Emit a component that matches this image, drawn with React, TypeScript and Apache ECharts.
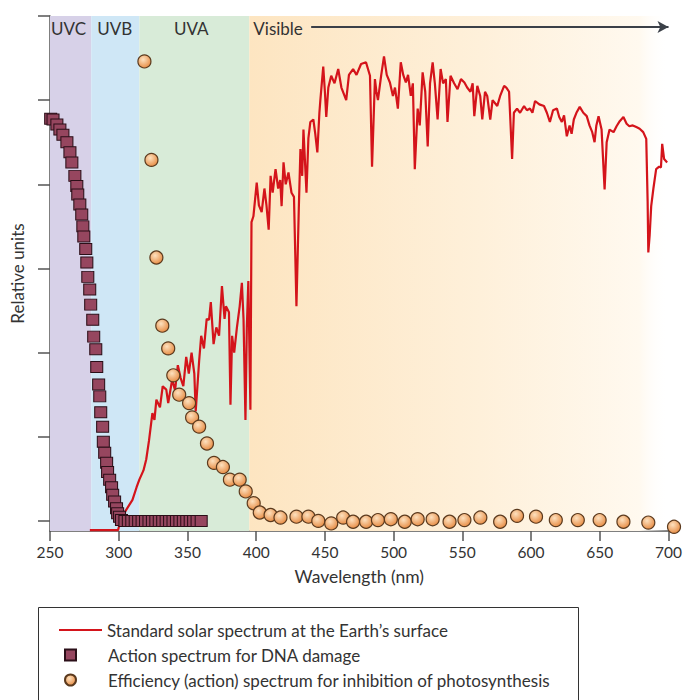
import React, { useEffect, useRef } from "react";
import * as echarts from "echarts";

const FONT = 'Lato, "Open Sans", "DejaVu Sans", sans-serif';

// X axis tick labels (nm)
const xTicks = [250, 300, 350, 400, 450, 500, 550, 600, 650, 700];
const yTicks = [0, 1, 2, 3, 4, 5, 6];

// Spectral bands
const bandNames = ["UVC", "UVB", "UVA", "Visible"];
const bandStart = [250, 280, 315, 395];
const bandEnd = [280, 315, 395, 707];

// Standard solar spectrum at the Earth's surface (relative units)
const solarWl = [
  279, 299.5, 302, 305, 310, 313, 315, 318, 320, 322, 324.5, 326, 327.4, 330, 332, 334.6, 336, 338.9, 341, 343,
  345, 347, 349.1, 351, 353, 355, 356, 358.5, 360, 362, 364, 365.7, 367, 369, 371, 373, 375.1, 377, 378, 380.2,
  381.3, 382.5, 384, 386, 388, 389.6, 390.8, 392.2, 393.2, 394.3, 395.8, 396.6, 398, 400.4, 402, 404, 406, 407.5,
  409.1, 410.5, 412, 414.1, 416, 417.5, 418.5, 419.9, 421.5, 423.5, 425.7, 427.5, 429.3, 431, 432.2, 433.5, 434.4,
  436.6, 438, 439.4, 441.6, 443, 444.5, 446, 446.7, 448.8, 450, 451, 452.5, 454.6, 457, 459.7, 462, 465.5, 467.5,
  470.5, 473, 476.3, 479.9, 482.8, 484.3, 486.4, 487.5, 488.6, 491, 493, 495, 497.3, 499.5, 501, 503.1, 505.2, 507,
  508.9, 510.5, 512.5, 514, 515.4, 517.5, 519, 521.1, 523, 524.8, 526.5, 528.4, 530, 532, 534.2, 536, 538, 539.2,
  541.4, 544, 546.5, 549, 551.5, 553.5, 555.9, 557.5, 558.7, 560.9, 563, 564.5, 566.5, 568.1, 570.3, 572, 575.4,
  577.5, 580.4, 582, 584, 586.2, 587.5, 589.8, 592, 594.9, 597, 599.2, 601, 602.9, 606, 609.4, 611.5, 613.7, 616,
  618.8, 620.5, 622.4, 624, 626, 628, 629.5, 631.1, 633, 635.4, 638, 640.5, 642.5, 644.5, 646.2, 647.5, 649.1,
  651.3, 653.5, 655, 657.1, 660, 662.2, 664.5, 667.2, 669.5, 671.5, 674, 676.6, 679, 681.6, 683.8, 684.8, 685.3,
  686.3, 687.4, 689, 691, 693.2, 694.5, 695.4, 696.8, 699,
];
const solarVal = [
  -0.11, -0.11, 0.05, 0.12, 0.25, 0.4, 0.49, 0.6, 0.73, 0.95, 1.28, 1.2, 1.44, 1.35, 1.6, 1.56, 1.4, 1.68, 1.55, 1.85,
  1.7, 1.6, 1.95, 1.75, 2.0, 1.75, 1.3, 1.9, 2.2, 2.05, 2.4, 2.39, 2.6, 2.1, 2.3, 2.2, 2.79, 2.4, 2.55, 2.48,
  1.38, 2.2, 2.0, 2.3, 2.55, 2.83, 2.4, 1.2, 2.3, 2.85, 1.32, 3.55, 3.62, 4.02, 3.75, 3.67, 3.95, 3.75,
  3.46, 4.1, 3.9, 4.18, 3.95, 4.05, 3.74, 4.26, 4.0, 4.14, 3.9, 3.85, 2.55, 3.7, 4.42, 4.1, 4.65,
  3.9, 4.55, 4.74, 4.77, 4.6, 4.38, 4.85, 5.0, 5.4, 5.1, 4.8, 5.15, 5.29, 5.2, 5.37, 5.15, 5.0, 5.3,
  5.37, 5.3, 5.43, 5.45, 5.29, 4.21, 5.25, 5.1, 5.0, 5.3, 5.52, 5.3, 5.21, 5.05, 5.15, 4.9, 5.45, 5.3,
  5.21, 5.3, 5.05, 5.2, 4.18, 4.9, 4.7, 5.33, 5.1, 4.45, 5.2, 5.45, 5.2, 4.77, 5.37, 5.2, 5.25, 4.74,
  5.29, 5.2, 5.13, 5.25, 5.21, 5.15, 5.1, 5.2, 4.81, 5.17, 5.05, 4.77, 5.1, 5.05, 4.77, 5.0, 4.93,
  5.05, 5.17, 5.15, 5.1, 4.3, 4.85, 4.9, 4.85, 4.93, 4.88, 4.9, 4.85, 4.99, 4.95, 4.93, 4.85, 4.74, 4.88,
  4.9, 4.8, 4.74, 4.82, 4.57, 4.7, 4.6, 4.77, 4.85, 4.92, 4.85, 4.81, 4.7, 4.62, 4.5, 4.7, 4.81,
  4.65, 3.94, 4.5, 4.65, 4.62, 4.69, 4.75, 4.8, 4.72, 4.69, 4.7, 4.68, 4.66, 4.62, 4.54, 3.8, 3.19,
  3.4, 3.74, 3.95, 4.18, 4.21, 4.2, 4.48, 4.3, 4.26,
];

// Action spectrum for DNA damage
const dnaWl = [
  250.5, 252.2, 255, 257.2, 259.4, 262.3, 264.5, 265.9, 268.1, 269.5, 270.2, 271.7, 273.1, 273.9, 274.6, 276, 276.8,
  277.5, 278.9, 279.6, 281.1, 281.8, 283.3, 284, 285.4, 286.2, 286.9, 288.3, 288.8, 289.8, 291.2, 291.9, 293.4,
  294.8, 295.6, 297, 298.4, 299.2, 300.6, 302, 304.5, 307, 309.5, 312, 314.5, 317, 319.5, 322, 324.5, 327, 329.5,
  332, 334.5, 337, 339.5, 342, 344.5, 347, 349.5, 352, 354.5, 357, 360,
];
const dnaVal = [
  4.78, 4.77, 4.71, 4.65, 4.59, 4.5, 4.38, 4.26, 4.1, 3.98, 3.88, 3.76, 3.64, 3.5, 3.38, 3.23, 3.07,
  2.9, 2.75, 2.57, 2.39, 2.19, 2.04, 1.83, 1.62, 1.48, 1.29, 1.12, 0.94, 0.81, 0.69, 0.58, 0.49,
  0.4, 0.31, 0.23, 0.15, 0.09, 0.05, 0.01, 0, 0, 0, 0, 0, 0, 0, 0, 0, 0, 0,
  0, 0, 0, 0, 0, 0, 0, 0, 0, 0, 0, 0,
];

// Efficiency (action) spectrum for inhibition of photosynthesis
const psWl = [
  318.7, 323.8, 327.4, 331.7, 336, 339.7, 344, 351.2, 353.4, 358.5, 364.2, 369.3, 375.8, 380.9, 388, 392.4, 398.2,
  402.6, 410.5, 417.7, 429.3, 438, 445.2, 454.6, 463.3, 470.5, 480, 488.6, 498, 508.1, 517.5, 528.4, 540.7, 551.5,
  563.1, 577.5, 589.8, 603.6, 618, 634, 649.9, 667.2, 685.3, 704,
];
const psVal = [
  5.46, 4.29, 3.13, 2.32, 2.05, 1.73, 1.5, 1.4, 1.23, 1.12, 0.92, 0.69, 0.64, 0.49, 0.49, 0.35, 0.21,
  0.1, 0.07, 0.04, 0.05, 0.05, 0, -0.03, 0.04, -0.01, -0.01, 0.01, 0.02, -0.01, 0.02, 0.02, -0.01, 0.01,
  0.04, -0.01, 0.06, 0.05, 0.01, 0.01, 0.01, -0.01, -0.02, -0.07,
];

const SOLAR = "Standard solar spectrum at the Earth\u2019s surface";
const DNA = "Action spectrum for DNA damage";
const PS = "Efficiency (action) spectrum for inhibition of photosynthesis";

export default function App() {
  const ref = useRef<HTMLDivElement>(null);
  useEffect(() => {
    if (!ref.current) return;
    const chart = echarts.init(ref.current, undefined, { renderer: "svg" });

    const bandColors: any[] = [
      "#d7d1e8",
      "#cfe7f6",
      "#d8ebd8",
      new echarts.graphic.LinearGradient(0, 0, 1, 0, [
        { offset: 0, color: "#fde5c1" },
        { offset: 0.55, color: "#fef0da" },
        { offset: 0.93, color: "#fff9ef" },
        { offset: 1, color: "rgba(255,255,255,0)" },
      ]),
    ];
    const bandLabel = [
      { position: "insideTopLeft", offset: [1, 4] },
      { position: "insideTopLeft", offset: [6, 4] },
      { position: "insideTop", offset: [-3, 4] },
      { position: "insideTopLeft", offset: [4, 4] },
    ];

    const markAreaData = bandNames.map((n, i) => [
      {
        name: n,
        xAxis: bandStart[i],
        itemStyle: { color: bandColors[i] },
        label: {
          show: true,
          ...bandLabel[i],
          distance: 0,
          color: "#333",
          fontSize: 17,
          fontFamily: FONT,
        },
      },
      { xAxis: bandEnd[i] },
    ]);

    const psColor = new echarts.graphic.RadialGradient(0.4, 0.35, 0.65, [
      { offset: 0, color: "#fde1bf" },
      { offset: 1, color: "#e88f48" },
    ]);

    const legendText = {
      fontSize: 17,
      color: "#333",
      fontFamily: FONT,
      lineHeight: 20,
    };

    chart.setOption({
      animation: false,
      textStyle: { fontFamily: FONT },
      grid: { left: 50, right: 14, top: 16, bottom: 169, containLabel: false },
      xAxis: {
        type: "value",
        min: 250,
        max: 700,
        interval: 50,
        name: "Wavelength (nm)",
        nameLocation: "middle",
        nameGap: 36,
        nameTextStyle: { fontSize: 17.5, color: "#333", fontFamily: FONT },
        axisLine: { onZero: false, lineStyle: { color: "#555", width: 1.5 } },
        axisTick: { length: 10, lineStyle: { color: "#555", width: 1.5 } },
        axisLabel: {
          margin: 13,
          fontSize: 15.5,
          color: "#333",
          fontFamily: FONT,
          customValues: xTicks,
        },
        splitLine: { show: false },
      },
      yAxis: {
        type: "value",
        min: -0.12,
        max: 6,
        name: "Relative units",
        nameLocation: "middle",
        nameGap: 24,
        nameTextStyle: { fontSize: 17, color: "#333", fontFamily: FONT },
        axisLine: { onZero: false, lineStyle: { color: "#555", width: 1.5 } },
        axisTick: { length: 12, customValues: yTicks, lineStyle: { color: "#555", width: 1.5 } },
        axisLabel: { show: false },
        splitLine: { show: false },
      },
      legend: [
        {
          data: [{ name: SOLAR, icon: "rect" }],
          left: 54,
          top: 615,
          itemWidth: 43,
          itemHeight: 2,
          textStyle: legendText,
          selectedMode: false,
        },
        {
          data: [DNA, PS],
          orient: "vertical",
          left: 59,
          top: 640,
          itemWidth: 11,
          itemHeight: 11,
          itemGap: 5,
          textStyle: { ...legendText, padding: [0, 0, 0, 27] },
          selectedMode: false,
        },
      ],
      graphic: [
        {
          type: "rect",
          shape: { x: 38.5, y: 607.5, width: 540, height: 100 },
          style: { fill: "none", stroke: "#333", lineWidth: 1 },
          silent: true,
        },
      ],
      series: [
        {
          name: SOLAR,
          type: "line",
          data: solarWl.map((w, i) => [w, solarVal[i]]),
          symbol: "none",
          showSymbol: false,
          clip: false,
          lineStyle: { color: "#d4141b", width: 2.2 },
          itemStyle: { color: "#d4141b" },
          z: 3,
          markArea: {
            silent: true,
            z: 1,
            data: markAreaData,
          },
          markLine: {
            silent: true,
            symbol: ["none", "arrow"],
            symbolSize: [9, 11],
            label: { show: false },
            lineStyle: { color: "#3b4048", width: 1.8, type: "solid" },
            data: [[{ coord: [440, 5.87] }, { coord: [700, 5.87] }]],
          },
        },
        {
          name: DNA,
          type: "scatter",
          data: dnaWl.map((w, i) => [w, dnaVal[i]]),
          symbol: "rect",
          symbolSize: [12, 11],
          clip: false,
          itemStyle: { color: "#96465f", borderColor: "#2b0f18", borderWidth: 1, opacity: 1 },
          z: 4,
        },
        {
          name: PS,
          type: "scatter",
          data: psWl.map((w, i) => [w, psVal[i]]),
          symbol: "circle",
          symbolSize: 13,
          clip: false,
          itemStyle: { color: psColor, borderColor: "#5b3a1e", borderWidth: 1.2, opacity: 1 },
          z: 5,
        },
      ],
    });
    return () => chart.dispose();
  }, []);
  return (
    <div
      ref={ref}
      style={{ position: "fixed", left: 0, top: 0, width: 685, height: 700, background: "#fff" }}
    />
  );
}
